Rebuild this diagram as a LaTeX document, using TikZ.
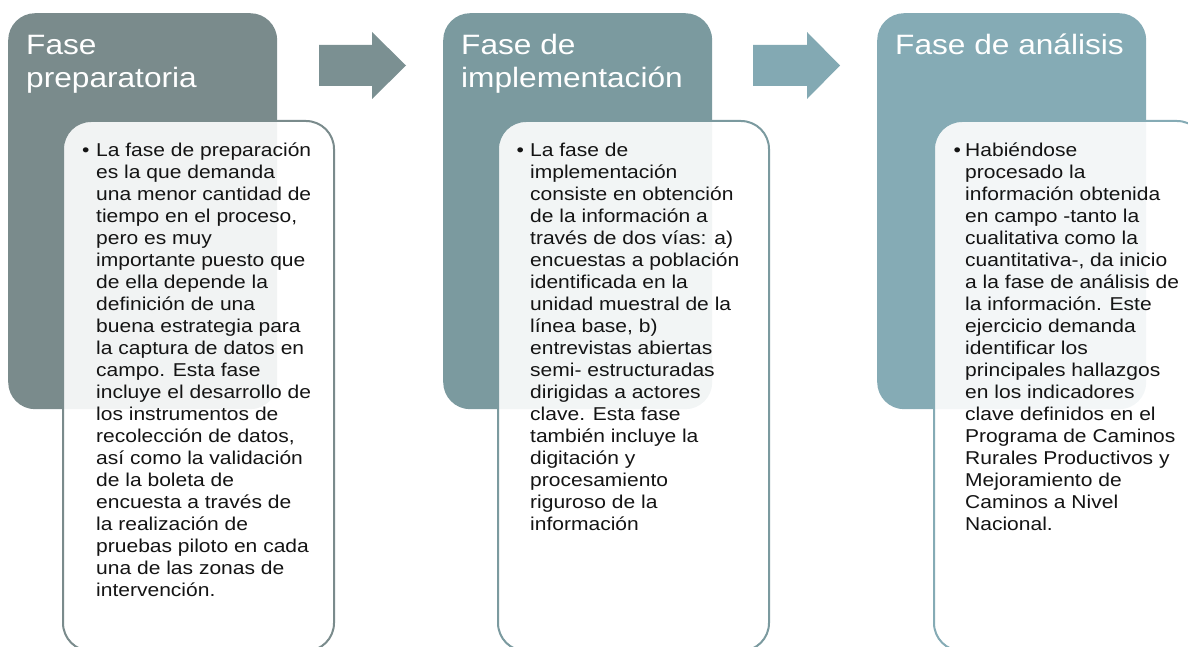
\documentclass[tikz,border=0pt]{standalone}
\usepackage{fontspec}
\setmainfont{Liberation Sans}[FakeStretch=1.13]
\definecolor{cone}{RGB}{122,139,140}
\definecolor{ctwo}{RGB}{123,154,159}
\definecolor{cthree}{RGB}{133,171,181}
\definecolor{aone}{RGB}{123,144,146}
\definecolor{atwo}{RGB}{131,169,179}
\definecolor{bodyink}{RGB}{20,20,20}
\newcommand{\titlefnt}{\fontsize{28pt}{33pt}\selectfont}
\newcommand{\bodyfnt}{\fontsize{18.6pt}{22pt}\selectfont}
\tikzset{
  phasebox/.style={rounded corners=27pt, minimum width=269pt, minimum height=396pt, anchor=north west, inner sep=0pt},
  textbox/.style={rounded corners=28pt, fill=white, fill opacity=0.9, line width=2pt, minimum width=271pt, minimum height=530pt, anchor=north west, inner sep=0pt},
  titletext/.style={anchor=base west, inner sep=0pt, text=white},
  bodytext/.style={anchor=base west, inner sep=0pt, text=bodyink},
  bulletmark/.style={anchor=base west, inner sep=0pt, text=bodyink, font=\bodyfnt}
}
\begin{document}
\begin{tikzpicture}[x=1pt,y=-1pt]
\useasboundingbox (0,0) rectangle (1188,647);
\clip (0,0) rectangle (1188,647);
% phase 1
\node[phasebox, fill=cone] (p1) at (8,13) {};
\node[titletext] (t1) at (26,55) {\parbox[t]{250pt}{\titlefnt Fase\\preparatoria}};
\node[textbox, draw=cone] (w1) at (62,120) {};
\node[bulletmark] (d1) at (82,157) {•};
\node[bodytext] (x1) at (96,157) {\parbox[t]{260pt}{\bodyfnt\raggedright
La fase de preparación\\
es la que demanda\\
una menor cantidad de\\
tiempo en el proceso,\\
pero es muy\\
importante puesto que\\
de ella depende la\\
definición de una\\
buena estrategia para\\
la captura de datos en\\
campo. Esta fase\\
incluye el desarrollo de\\
los instrumentos de\\
recolección de datos,\\
así como la validación\\
de la boleta de\\
encuesta a través de\\
la realización de\\
pruebas piloto en cada\\
una de las zonas de\\
intervención.}};
% arrow 1
\coordinate (a1s) at (319,65.5);
\coordinate (a1t) at (406,65.5);
\fill[aone] (a1s) ++(0,-20.5) -- ++(53,0) -- ++(0,-13) -- (a1t) -- ++(-34,33.5) -- ++(0,-13) -- ++(-53,0) -- cycle;
% phase 2
\node[phasebox, fill=ctwo] (p2) at (443,13) {};
\node[titletext] (t2) at (461,55) {\parbox[t]{250pt}{\titlefnt Fase de\\implementación}};
\node[textbox, draw=ctwo] (w2) at (497,120) {};
\node[bulletmark] (d2) at (516.5,157) {•};
\node[bodytext] (x2) at (530,157) {\parbox[t]{260pt}{\bodyfnt\raggedright
La fase de\\
implementación\\
consiste en obtención\\
de la información a\\
través de dos vías: a)\\
encuestas a población\\
identificada en la\\
unidad muestral de la\\
línea base, b)\\
entrevistas abiertas\\
semi- estructuradas\\
dirigidas a actores\\
clave. Esta fase\\
también incluye la\\
digitación y\\
procesamiento\\
riguroso de la\\
información}};
% arrow 2
\coordinate (a2s) at (753,65.5);
\coordinate (a2t) at (840,65.5);
\fill[atwo] (a2s) ++(0,-20.5) -- ++(54,0) -- ++(0,-13) -- (a2t) -- ++(-33,33.5) -- ++(0,-13) -- ++(-54,0) -- cycle;
% phase 3
\node[phasebox, fill=cthree] (p3) at (877,13) {};
\node[titletext] (t3) at (895,55) {\parbox[t]{250pt}{\titlefnt Fase de análisis}};
\node[textbox, draw=cthree] (w3) at (933,120) {};
\node[bulletmark] (d3) at (953.5,157) {•};
\node[bodytext] (x3) at (965,157) {\parbox[t]{260pt}{\bodyfnt\raggedright
Habiéndose\\
procesado la\\
información obtenida\\
en campo -tanto la\\
cualitativa como la\\
cuantitativa-, da inicio\\
a la fase de análisis de\\
la información. Este\\
ejercicio demanda\\
identificar los\\
principales hallazgos\\
en los indicadores\\
clave definidos en el\\
Programa de Caminos\\
Rurales Productivos y\\
Mejoramiento de\\
Caminos a Nivel\\
Nacional.}};
\end{tikzpicture}
\end{document}
